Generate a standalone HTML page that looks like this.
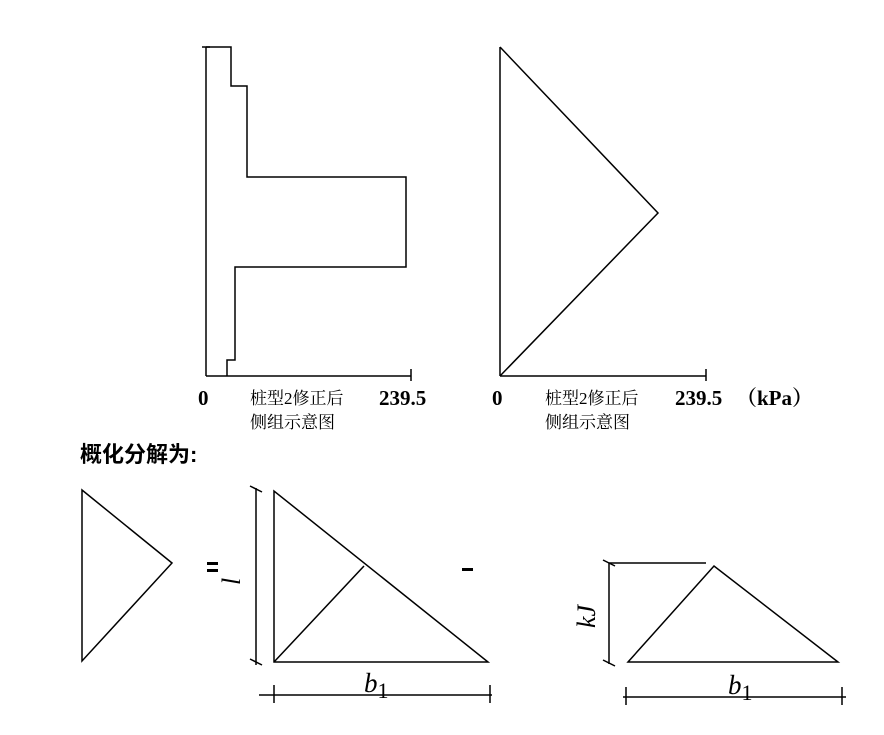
<!DOCTYPE html>
<html><head><meta charset="utf-8"><style>
html,body{margin:0;padding:0;background:#fff;}
svg{display:block;}
text{font-family:"Liberation Serif","Noto Serif CJK SC",serif;fill:#000;}
.cj{font-family:"Liberation Serif","Noto Serif CJK SC",serif;font-size:17px;}
.b{font-weight:bold;font-size:21px;}
</style></head><body>
<svg width="884" height="735" viewBox="0 0 884 735" xmlns="http://www.w3.org/2000/svg">
<g fill="none" stroke="#000" stroke-width="1.5">
<!-- left chart -->
<line x1="206" y1="47" x2="206" y2="376"/>
<line x1="206" y1="376" x2="411" y2="376"/>
<line x1="411" y1="369" x2="411" y2="381"/>
<line x1="202" y1="47" x2="210" y2="47"/>
<polyline points="206,47 231,47 231,86 247,86 247,177 406,177 406,267 235,267 235,360 227,360 227,376"/>
<!-- right chart -->
<line x1="500" y1="47" x2="500" y2="376"/>
<line x1="500" y1="376" x2="706" y2="376"/>
<line x1="706" y1="369" x2="706" y2="381"/>
<polyline points="500,47 658,213 500,376"/>
<!-- bottom -->
<polygon points="82,490 172,563 82,661"/>
<polygon points="274,491 274,662 488,662"/>
<line x1="274" y1="662" x2="364" y2="566"/>
<line x1="256" y1="488" x2="256" y2="665"/>
<line x1="250" y1="486" x2="262" y2="492"/>
<line x1="250" y1="659" x2="262" y2="665"/>
<line x1="259" y1="695" x2="492" y2="695"/>
<line x1="274" y1="685" x2="274" y2="703"/>
<line x1="490" y1="685" x2="490" y2="703"/>
<polygon points="628,662 714,566 838,662"/>
<line x1="609" y1="563" x2="706" y2="563"/>
<line x1="609" y1="563" x2="609" y2="664"/>
<line x1="603" y1="560" x2="615" y2="566"/>
<line x1="603" y1="660" x2="615" y2="666"/>
<line x1="623" y1="697" x2="846" y2="697"/>
<line x1="626" y1="687" x2="626" y2="705"/>
<line x1="842" y1="687" x2="842" y2="705"/>
</g>
<rect x="207" y="562" width="11" height="3" fill="#000"/>
<rect x="207" y="569" width="11" height="3" fill="#000"/>
<rect x="462" y="568" width="11" height="3" fill="#000"/>
<text x="198" y="405" class="b">0</text>
<text x="250" y="404" class="cj">桩型2修正后</text>
<text x="250" y="428" class="cj">侧组示意图</text>
<text x="379" y="405" class="b">239.5</text>
<text x="492" y="405" class="b">0</text>
<text x="545" y="404" class="cj">桩型2修正后</text>
<text x="545" y="428" class="cj">侧组示意图</text>
<text x="675" y="405" class="b">239.5</text>
<text x="736" y="405" class="b">（kPa）</text>
<text x="80" y="462" style="font-size:22px;font-weight:bold;font-family:'Liberation Sans','Noto Sans CJK SC',sans-serif">概化分解为:</text>
<text x="0" y="0" transform="translate(240,585) rotate(-90)" style="font-size:26px;font-style:italic">l</text>
<text x="0" y="0" transform="translate(595,628) rotate(-90)" style="font-size:26px;font-style:italic">kJ</text>
<text x="364" y="692" style="font-size:27px;font-style:italic">b<tspan style="font-style:normal;font-size:22px" dy="6">1</tspan></text>
<text x="728" y="694" style="font-size:27px;font-style:italic">b<tspan style="font-style:normal;font-size:22px" dy="6">1</tspan></text>
</svg>
</body></html>
